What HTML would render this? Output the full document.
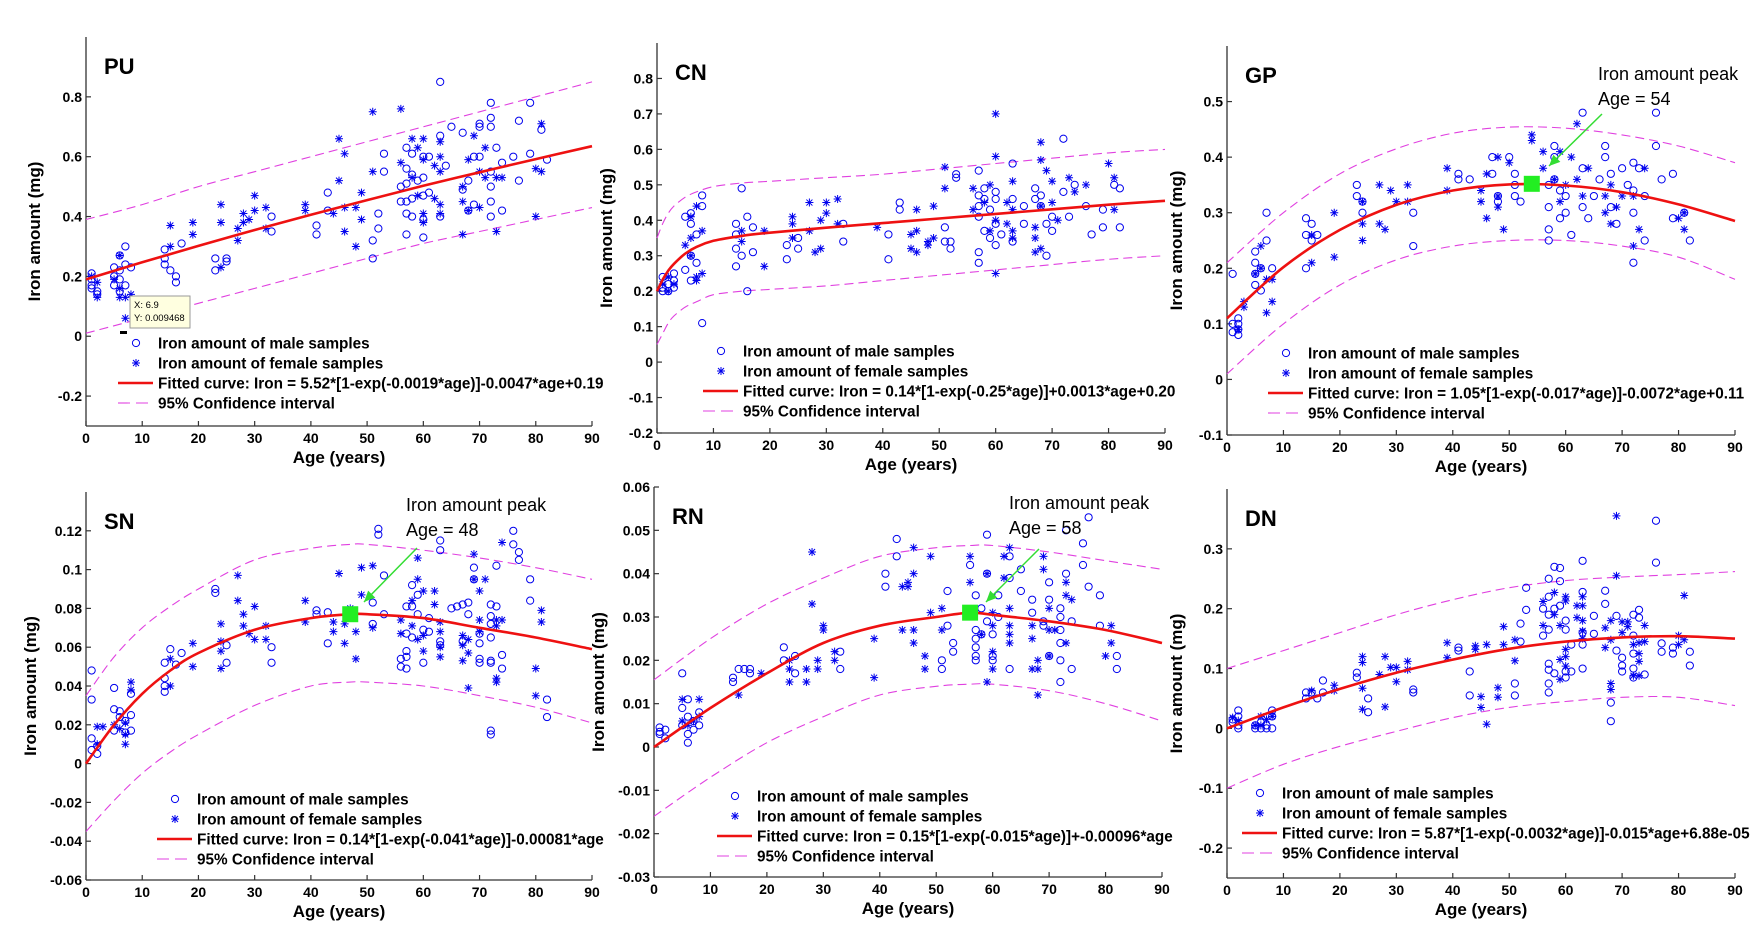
<!DOCTYPE html>
<html><head><meta charset="utf-8">
<style>
html,body{margin:0;padding:0;background:#fff;}
svg{display:block;font-family:"Liberation Sans",Arial,sans-serif;}
</style></head>
<body>
<svg id="fig" width="1756" height="935" viewBox="0 0 1756 935" xmlns="http://www.w3.org/2000/svg"></svg>
<script>
// ---------------- DATA ----------------
const xTicks = [0,10,20,30,40,50,60,70,80,90];

const puAges = [0,10,20,30,40,50,60,70,80,90];
const puFit = [0.19,0.247,0.302,0.355,0.406,0.455,0.503,0.548,0.592,0.635];
const puUpper = [0.39,0.44,0.5,0.55,0.6,0.65,0.7,0.75,0.8,0.85];
const puLower = [0.01,0.06,0.11,0.16,0.21,0.26,0.31,0.35,0.39,0.43];
const puYTicks = [-0.2,0,0.2,0.4,0.6,0.8];
const puMale = [[1,0.21],[1,0.19],[1,0.17],[1,0.16],[2,0.15],[2,0.14],[5,0.23],[5,0.2],[5,0.17],[6,0.27],[6,0.22],[6,0.19],[6,0.15],[7,0.3],[7,0.24],[7,0.17],[8,0.23],[14,0.29],[14,0.26],[14,0.24],[15,0.22],[16,0.2],[16,0.18],[17,0.31],[23,0.26],[23,0.22],[25,0.26],[25,0.25],[33,0.4],[33,0.35],[41,0.37],[41,0.34],[43,0.48],[43,0.42],[51,0.32],[51,0.26],[52,0.41],[52,0.36],[53,0.61],[53,0.55],[56,0.5],[56,0.45],[57,0.63],[57,0.56],[57,0.51],[57,0.45],[57,0.41],[57,0.34],[58,0.61],[58,0.54],[58,0.46],[58,0.4],[59,0.52],[60,0.6],[60,0.53],[60,0.47],[60,0.39],[60,0.33],[61,0.6],[61,0.48],[63,0.85],[63,0.67],[63,0.4],[64,0.57],[65,0.7],[67,0.68],[67,0.49],[68,0.52],[68,0.42],[69,0.6],[69,0.44],[70,0.71],[70,0.7],[70,0.6],[72,0.78],[72,0.73],[72,0.7],[72,0.55],[72,0.5],[72,0.45],[72,0.4],[73,0.63],[74,0.58],[74,0.42],[76,0.6],[77,0.72],[77,0.52],[79,0.78],[79,0.61],[81,0.69],[82,0.59]];
const puFemale = [[1,0.2],[2,0.18],[2,0.13],[5,0.19],[6,0.16],[6,0.13],[6,0.27],[7,0.13],[7,0.06],[8,0.14],[15,0.37],[15,0.3],[19,0.38],[19,0.34],[24,0.44],[24,0.38],[24,0.23],[27,0.36],[27,0.32],[28,0.41],[28,0.38],[29,0.39],[30,0.47],[30,0.42],[32,0.43],[32,0.36],[39,0.44],[39,0.42],[44,0.41],[45,0.66],[45,0.52],[46,0.61],[46,0.43],[46,0.35],[48,0.43],[48,0.3],[49,0.48],[49,0.39],[51,0.75],[51,0.55],[56,0.76],[56,0.58],[58,0.66],[58,0.53],[59,0.63],[59,0.47],[60,0.66],[60,0.59],[60,0.41],[60,0.38],[62,0.57],[62,0.46],[63,0.65],[63,0.6],[63,0.55],[63,0.44],[63,0.41],[67,0.5],[67,0.45],[67,0.34],[68,0.59],[68,0.42],[69,0.67],[70,0.55],[70,0.43],[71,0.53],[71,0.63],[73,0.53],[73,0.35],[74,0.53],[80,0.4],[80,0.56],[81,0.71],[81,0.55]];

const cnAges = [0,1,2,3,5,7,10,15,20,30,40,50,60,70,80,90];
const cnFit = [0.2,0.232,0.258,0.277,0.306,0.325,0.342,0.356,0.365,0.379,0.392,0.405,0.418,0.431,0.444,0.455];
const cnUpper = [0.35,0.39,0.42,0.44,0.465,0.48,0.495,0.505,0.51,0.52,0.53,0.545,0.56,0.575,0.59,0.6];
const cnLower = [0.05,0.08,0.11,0.13,0.155,0.17,0.19,0.2,0.205,0.215,0.23,0.245,0.26,0.275,0.29,0.3];
const cnYTicks = [-0.2,-0.1,0,0.1,0.2,0.3,0.4,0.5,0.6,0.7,0.8];
const cnMale = [[1,0.24],[1,0.21],[1,0.2],[2,0.22],[2,0.2],[3,0.25],[3,0.23],[3,0.21],[5,0.26],[5,0.41],[6,0.42],[6,0.39],[6,0.23],[6,0.3],[7,0.36],[7,0.28],[8,0.47],[8,0.44],[8,0.11],[14,0.39],[14,0.36],[14,0.32],[14,0.27],[15,0.49],[15,0.3],[16,0.41],[16,0.2],[17,0.38],[17,0.31],[23,0.33],[23,0.29],[25,0.35],[25,0.32],[33,0.39],[33,0.34],[41,0.36],[41,0.29],[43,0.45],[43,0.43],[51,0.38],[51,0.34],[52,0.34],[52,0.32],[53,0.53],[53,0.52],[57,0.54],[57,0.47],[57,0.44],[57,0.41],[57,0.31],[57,0.28],[58,0.49],[58,0.46],[58,0.37],[59,0.43],[59,0.35],[60,0.48],[60,0.46],[60,0.39],[60,0.33],[61,0.36],[63,0.56],[63,0.46],[63,0.34],[65,0.44],[65,0.39],[67,0.49],[67,0.46],[68,0.47],[68,0.44],[69,0.39],[69,0.3],[70,0.41],[70,0.37],[72,0.63],[72,0.48],[73,0.41],[74,0.5],[76,0.44],[77,0.36],[79,0.43],[79,0.38],[81,0.5],[82,0.49],[82,0.38]];
const cnFemale = [[1,0.22],[2,0.24],[2,0.2],[3,0.22],[5,0.33],[6,0.41],[6,0.35],[6,0.3],[7,0.44],[7,0.24],[7,0.23],[8,0.37],[8,0.25],[15,0.37],[15,0.34],[19,0.37],[19,0.27],[24,0.41],[24,0.39],[24,0.35],[27,0.45],[27,0.37],[28,0.31],[29,0.4],[29,0.32],[30,0.45],[30,0.42],[32,0.46],[32,0.39],[39,0.38],[45,0.36],[45,0.32],[46,0.37],[46,0.43],[46,0.31],[48,0.34],[48,0.33],[49,0.44],[49,0.35],[51,0.55],[51,0.49],[56,0.49],[56,0.43],[58,0.45],[59,0.5],[59,0.37],[60,0.7],[60,0.58],[60,0.4],[60,0.25],[62,0.45],[62,0.39],[63,0.51],[63,0.43],[63,0.37],[63,0.35],[67,0.38],[67,0.35],[67,0.31],[68,0.62],[68,0.57],[68,0.44],[68,0.32],[69,0.54],[70,0.51],[70,0.45],[71,0.4],[73,0.52],[74,0.48],[76,0.5],[80,0.56],[81,0.52],[81,0.43]];

const gpAges = [0,10,20,30,40,50,60,70,80,90];
const gpFit = [0.11,0.202,0.269,0.314,0.340,0.351,0.349,0.337,0.315,0.285];
const gpUpper = [0.21,0.3,0.37,0.415,0.443,0.454,0.452,0.44,0.42,0.39];
const gpLower = [0.01,0.1,0.17,0.215,0.24,0.25,0.25,0.24,0.22,0.18];
const gpYTicks = [-0.1,0,0.1,0.2,0.3,0.4,0.5];
const gpPeak = [54,0.352];
const gpMale = [[1,0.19],[1,0.1],[1,0.085],[2,0.11],[2,0.1],[2,0.09],[2,0.08],[5,0.23],[5,0.21],[5,0.19],[5,0.17],[6,0.2],[6,0.16],[7,0.3],[7,0.25],[8,0.2],[14,0.29],[14,0.26],[14,0.2],[15,0.28],[15,0.25],[16,0.26],[23,0.35],[23,0.33],[24,0.32],[24,0.3],[33,0.3],[33,0.24],[41,0.36],[41,0.37],[43,0.36],[47,0.4],[47,0.37],[48,0.32],[48,0.33],[50,0.4],[51,0.37],[51,0.35],[51,0.33],[52,0.32],[57,0.35],[57,0.31],[57,0.27],[57,0.25],[58,0.42],[58,0.4],[58,0.36],[59,0.34],[59,0.29],[60,0.33],[60,0.3],[61,0.26],[63,0.48],[63,0.38],[63,0.31],[64,0.29],[65,0.33],[66,0.36],[67,0.42],[67,0.4],[68,0.37],[68,0.31],[69,0.28],[70,0.38],[71,0.35],[72,0.39],[72,0.34],[72,0.3],[72,0.21],[73,0.38],[74,0.33],[74,0.25],[76,0.48],[76,0.42],[77,0.36],[79,0.37],[79,0.29],[81,0.3],[82,0.25]];
const gpFemale = [[2,0.09],[3,0.14],[3,0.13],[5,0.19],[6,0.24],[6,0.2],[7,0.18],[8,0.18],[8,0.14],[7,0.12],[15,0.26],[15,0.21],[19,0.3],[19,0.22],[24,0.32],[24,0.28],[24,0.25],[27,0.35],[27,0.28],[28,0.27],[29,0.34],[30,0.32],[32,0.35],[32,0.32],[39,0.38],[39,0.34],[45,0.34],[45,0.32],[46,0.37],[46,0.29],[48,0.4],[48,0.33],[48,0.31],[49,0.27],[50,0.39],[54,0.44],[54,0.43],[56,0.41],[56,0.38],[58,0.36],[59,0.41],[59,0.32],[60,0.35],[61,0.4],[62,0.46],[62,0.36],[63,0.33],[64,0.38],[67,0.33],[67,0.3],[68,0.35],[68,0.28],[69,0.31],[70,0.33],[72,0.33],[72,0.24],[73,0.27],[74,0.38],[80,0.29],[81,0.3],[81,0.27]];

const snAges = [0,5,10,15,20,30,40,47,50,60,70,80,90];
const snFit = [0,0.02,0.036,0.048,0.057,0.069,0.075,0.077,0.077,0.075,0.07,0.065,0.059];
const snUpper = [0.035,0.055,0.07,0.081,0.09,0.105,0.111,0.113,0.113,0.11,0.106,0.101,0.095];
const snLower = [-0.035,-0.019,-0.005,0.006,0.015,0.03,0.04,0.042,0.042,0.04,0.035,0.029,0.021];
const snYTicks = [-0.06,-0.04,-0.02,0,0.02,0.04,0.06,0.08,0.1,0.12];
const snPeak = [47,0.077];
const snMale = [[1,0.048],[1,0.033],[1,0.013],[1,0.007],[2,0.009],[2,0.005],[5,0.039],[5,0.028],[5,0.017],[6,0.027],[6,0.024],[7,0.022],[7,0.016],[8,0.036],[8,0.025],[8,0.017],[14,0.052],[14,0.044],[14,0.04],[14,0.037],[15,0.059],[16,0.051],[17,0.057],[23,0.09],[23,0.088],[25,0.061],[25,0.052],[33,0.06],[33,0.052],[41,0.079],[41,0.077],[43,0.078],[43,0.062],[51,0.072],[51,0.083],[52,0.121],[52,0.118],[53,0.097],[53,0.077],[56,0.054],[56,0.05],[57,0.081],[57,0.067],[57,0.058],[57,0.055],[57,0.049],[58,0.092],[58,0.081],[58,0.065],[59,0.087],[59,0.077],[60,0.069],[60,0.052],[61,0.075],[61,0.068],[63,0.115],[63,0.11],[63,0.063],[63,0.061],[65,0.08],[66,0.081],[67,0.082],[67,0.063],[68,0.083],[68,0.077],[69,0.101],[69,0.095],[70,0.067],[70,0.062],[70,0.054],[70,0.052],[72,0.082],[72,0.076],[72,0.072],[72,0.065],[72,0.053],[72,0.052],[72,0.017],[72,0.015],[73,0.102],[73,0.081],[74,0.056],[74,0.049],[76,0.12],[76,0.113],[77,0.109],[77,0.105],[79,0.095],[79,0.084],[82,0.033],[82,0.024]];
const snFemale = [[2,0.019],[2,0.01],[3,0.019],[5,0.02],[6,0.018],[7,0.021],[7,0.01],[7,0.015],[8,0.042],[8,0.038],[15,0.054],[15,0.04],[19,0.062],[19,0.05],[24,0.072],[24,0.063],[24,0.058],[24,0.049],[27,0.097],[27,0.084],[28,0.077],[28,0.071],[29,0.067],[30,0.081],[30,0.064],[32,0.071],[32,0.064],[39,0.084],[39,0.073],[44,0.073],[44,0.068],[45,0.098],[46,0.072],[46,0.062],[47,0.08],[48,0.068],[48,0.054],[49,0.101],[49,0.087],[51,0.102],[51,0.07],[56,0.074],[56,0.067],[58,0.071],[58,0.084],[59,0.106],[59,0.095],[59,0.064],[60,0.089],[60,0.066],[60,0.058],[62,0.089],[62,0.082],[63,0.073],[63,0.068],[63,0.06],[63,0.055],[67,0.066],[67,0.061],[67,0.053],[68,0.064],[68,0.057],[68,0.039],[69,0.108],[69,0.095],[70,0.089],[70,0.074],[70,0.068],[71,0.095],[73,0.074],[73,0.071],[73,0.044],[73,0.042],[74,0.114],[74,0.074],[80,0.049],[80,0.035],[81,0.079],[81,0.073]];

const rnAges = [0,10,20,30,40,50,56,60,70,80,90];
const rnFit = [0,0.009,0.017,0.024,0.028,0.030,0.031,0.0305,0.029,0.027,0.024];
const rnUpper = [0.0155,0.025,0.033,0.039,0.044,0.046,0.0465,0.0465,0.045,0.043,0.041];
const rnLower = [-0.016,-0.007,0.001,0.007,0.012,0.014,0.0145,0.0145,0.013,0.01,0.006];
const rnYTicks = [-0.03,-0.02,-0.01,0,0.01,0.02,0.03,0.04,0.05,0.06];
const rnPeak = [56,0.031];
const rnMale = [[1,0.0045],[1,0.0035],[1,0.003],[2,0.004],[2,0.002],[5,0.017],[5,0.009],[5,0.005],[6,0.011],[6,0.007],[6,0.003],[6,0.001],[7,0.004],[7,0.006],[8,0.008],[8,0.005],[14,0.016],[14,0.015],[15,0.018],[16,0.018],[17,0.018],[17,0.017],[23,0.023],[23,0.02],[25,0.021],[25,0.017],[33,0.022],[33,0.018],[41,0.04],[41,0.037],[43,0.048],[43,0.044],[51,0.02],[51,0.018],[52,0.036],[52,0.028],[53,0.024],[53,0.022],[56,0.042],[57,0.035],[57,0.027],[57,0.025],[57,0.023],[57,0.021],[57,0.02],[58,0.032],[58,0.026],[59,0.049],[59,0.04],[59,0.029],[60,0.026],[60,0.021],[60,0.02],[61,0.03],[61,0.035],[63,0.044],[63,0.039],[63,0.018],[65,0.036],[65,0.041],[67,0.034],[67,0.031],[69,0.029],[69,0.028],[70,0.038],[70,0.034],[70,0.021],[72,0.032],[72,0.03],[72,0.027],[72,0.024],[72,0.02],[72,0.015],[73,0.04],[73,0.05],[74,0.029],[74,0.018],[76,0.047],[76,0.042],[77,0.053],[77,0.037],[79,0.035],[79,0.028],[82,0.021],[82,0.018]];
const rnFemale = [[5,0.011],[5,0.006],[6,0.005],[7,0.006],[8,0.011],[8,0.007],[15,0.012],[19,0.017],[24,0.02],[24,0.018],[24,0.015],[27,0.018],[27,0.015],[28,0.045],[28,0.033],[29,0.02],[29,0.018],[30,0.028],[30,0.027],[32,0.022],[32,0.02],[39,0.025],[39,0.016],[44,0.037],[44,0.027],[45,0.038],[45,0.037],[46,0.046],[46,0.04],[46,0.027],[46,0.024],[48,0.021],[48,0.018],[49,0.044],[49,0.031],[51,0.032],[51,0.027],[56,0.044],[56,0.038],[58,0.026],[59,0.04],[59,0.015],[60,0.031],[60,0.028],[60,0.022],[60,0.018],[62,0.044],[62,0.039],[63,0.046],[63,0.032],[63,0.028],[63,0.026],[63,0.024],[67,0.028],[67,0.025],[67,0.018],[68,0.02],[68,0.018],[68,0.012],[69,0.044],[69,0.041],[70,0.032],[70,0.027],[70,0.021],[71,0.027],[73,0.038],[73,0.035],[73,0.024],[74,0.034],[80,0.021],[81,0.028],[81,0.024]];

const dnAges = [0,10,20,30,40,50,60,70,80,90];
const dnFit = [0,0.035,0.066,0.093,0.115,0.133,0.145,0.152,0.154,0.15];
const dnUpper = [0.1,0.13,0.16,0.19,0.215,0.235,0.247,0.253,0.257,0.262];
const dnLower = [-0.1,-0.06,-0.03,-0.005,0.018,0.035,0.045,0.052,0.052,0.038];
const dnYTicks = [-0.2,-0.1,0,0.1,0.2,0.3];
const dnMale = [[1,0.015],[1,0.01],[2,0.03],[2,0.02],[2,0.005],[2,0],[5,0.005],[5,0],[6,0.01],[6,0],[7,0.005],[7,0],[8,0.03],[8,0.02],[8,0],[14,0.06],[14,0.05],[15,0.06],[16,0.05],[17,0.08],[17,0.06],[23,0.093],[23,0.085],[25,0.05],[25,0.027],[33,0.065],[33,0.06],[41,0.135],[41,0.13],[43,0.095],[43,0.055],[51,0.075],[51,0.055],[52,0.175],[52,0.145],[53,0.235],[53,0.198],[56,0.2],[56,0.155],[57,0.25],[57,0.22],[57,0.19],[57,0.165],[57,0.108],[57,0.098],[57,0.075],[57,0.06],[58,0.27],[58,0.2],[58,0.092],[59,0.268],[59,0.246],[59,0.205],[60,0.18],[60,0.165],[60,0.095],[60,0.085],[61,0.14],[61,0.095],[63,0.28],[63,0.228],[63,0.16],[63,0.14],[63,0.1],[65,0.188],[65,0.158],[67,0.23],[67,0.208],[68,0.043],[68,0.012],[69,0.188],[69,0.13],[70,0.118],[70,0.105],[70,0.095],[72,0.19],[72,0.155],[72,0.125],[72,0.1],[72,0.085],[73,0.198],[73,0.185],[74,0.09],[76,0.347],[76,0.277],[77,0.142],[77,0.128],[79,0.135],[79,0.125],[82,0.128],[82,0.105]];
const dnFemale = [[1,0.018],[2,0.013],[5,0.005],[6,0.02],[6,0.005],[7,0.015],[8,0.02],[15,0.063],[19,0.072],[19,0.063],[24,0.12],[24,0.11],[24,0.067],[24,0.032],[27,0.09],[28,0.12],[28,0.036],[29,0.102],[30,0.102],[30,0.078],[32,0.112],[32,0.098],[39,0.143],[39,0.118],[44,0.138],[44,0.132],[45,0.053],[45,0.035],[46,0.14],[46,0.007],[48,0.068],[48,0.052],[49,0.17],[49,0.14],[51,0.148],[51,0.113],[56,0.212],[56,0.172],[58,0.227],[58,0.19],[59,0.172],[59,0.115],[59,0.082],[60,0.22],[60,0.213],[60,0.132],[60,0.12],[60,0.104],[62,0.205],[62,0.185],[63,0.22],[63,0.205],[63,0.18],[63,0.163],[63,0.15],[67,0.168],[67,0.135],[68,0.18],[68,0.148],[68,0.075],[68,0.065],[69,0.355],[69,0.255],[70,0.16],[70,0.178],[71,0.178],[71,0.17],[72,0.14],[72,0.088],[73,0.143],[73,0.125],[73,0.112],[73,0.088],[74,0.172],[74,0.145],[80,0.155],[80,0.14],[81,0.222],[81,0.148]];

// ---------------- RENDER ----------------
const NS = "http://www.w3.org/2000/svg";
const svg = document.getElementById('fig');
function mk(tag, attrs, parent){ const e=document.createElementNS(NS,tag); for(const k in attrs) e.setAttribute(k,attrs[k]); (parent||svg).appendChild(e); return e; }
function fmt(v){ if(Math.abs(v)<1e-9) return "0"; return String(+v.toFixed(4)); }
function smoothPath(pts){
  let d='M'+pts[0][0].toFixed(1)+','+pts[0][1].toFixed(1);
  for(let i=0;i<pts.length-1;i++){
    const p0=pts[Math.max(0,i-1)], p1=pts[i], p2=pts[i+1], p3=pts[Math.min(pts.length-1,i+2)];
    const c1x=p1[0]+(p2[0]-p0[0])/6, c1y=p1[1]+(p2[1]-p0[1])/6;
    const c2x=p2[0]-(p3[0]-p1[0])/6, c2y=p2[1]-(p3[1]-p1[1])/6;
    d+=` C${c1x.toFixed(1)},${c1y.toFixed(1)} ${c2x.toFixed(1)},${c2y.toFixed(1)} ${p2[0].toFixed(1)},${p2[1].toFixed(1)}`;
  }
  return d;
}

function panel(cfg){
  const g = mk('g',{});
  
  
  const xs = a => cfg.x0 + a/90*(cfg.x1-cfg.x0);
  const ys = v => cfg.bottom - (v-cfg.ymin)/(cfg.ymax-cfg.ymin)*(cfg.bottom-cfg.top);
  const ax = mk('line',{x1:cfg.x0,y1:cfg.top,x2:cfg.x0,y2:cfg.bottom,stroke:'#333','stroke-width':1.3},g);
  
  
  const bx = mk('line',{x1:cfg.x0,y1:cfg.bottom,x2:cfg.x1,y2:cfg.bottom,stroke:'#333','stroke-width':1.3},g);
  
  
  xTicks.forEach(t=>{
    const x=xs(t);
    mk('line',{x1:x,y1:cfg.bottom,x2:x,y2:cfg.bottom-5,stroke:'#333','stroke-width':1.2},g);
    const tx = mk('text',{x:x,y:cfg.bottom+17,'text-anchor':'middle','font-size':14,'font-weight':'bold',fill:'#000'},g);
    tx.textContent = t;
    
    
  });
  cfg.yTicks.forEach(t=>{
    const y=ys(t);
    mk('line',{x1:cfg.x0,y1:y,x2:cfg.x0+5,y2:y,stroke:'#333','stroke-width':1.2},g);
    const ty = mk('text',{x:cfg.x0-4,y:y+5,'text-anchor':'end','font-size':14,'font-weight':'bold',fill:'#000'},g);
    ty.textContent = fmt(t);
    
    
  });
  const xl = mk('text',{x:(cfg.x0+cfg.x1)/2,y:cfg.bottom+37,'text-anchor':'middle','font-size':17,'font-weight':'bold',fill:'#000'},g);
  xl.textContent='Age (years)';
  
  
  const ym=(cfg.top+cfg.bottom)/2;
  const yl = mk('text',{x:cfg.ylx,y:ym,'text-anchor':'middle','font-size':17,'font-weight':'bold',fill:'#000',transform:`rotate(-90 ${cfg.ylx} ${ym})`},g);
  yl.textContent='Iron amount (mg)';
  
  
  const ti = mk('text',{x:cfg.x0+18,y:cfg.top+37,'font-size':22,'font-weight':'bold',fill:'#000'},g);
  ti.textContent=cfg.title;
  
  

  const pathOf = arr => smoothPath(cfg.ages.map((a,i)=>[xs(a),ys(arr[i])]));
  [['upper',cfg.upper],['lower',cfg.lower]].forEach(([n,arr])=>{
    const p = mk('path',{d:pathOf(arr),fill:'none',stroke:'#e040e0','stroke-width':1.1,'stroke-dasharray':'9,5'},g);
    
    
  });
  cfg.male.forEach(([a,v])=>{
    const c = mk('circle',{cx:xs(a),cy:ys(v),r:3.6,fill:'none',stroke:'#0000ee','stroke-width':1},g);
    
    
  });
  cfg.female.forEach(([a,v])=>{
    const x=xs(a), y=ys(v), r=4;
    const s = mk('path',{d:`M${x-r},${y}L${x+r},${y}M${x},${y-r}L${x},${y+r}M${x-3},${y-3}L${x+3},${y+3}M${x-3},${y+3}L${x+3},${y-3}`,stroke:'#0000ee','stroke-width':1},g);
    
    
  });
  const f = mk('path',{d:pathOf(cfg.fit),fill:'none',stroke:'#ee1111','stroke-width':2.6},g);
  
  

  const lx=cfg.lgx, ly=cfg.lgy, tx=lx+40;
  const items=['Iron amount of male samples','Iron amount of female samples',cfg.fitLabel,'95% Confidence interval'];
  items.forEach((txt,i)=>{
    const y=ly+i*20;
    if(i===0){ mk('circle',{cx:lx+18,cy:y,r:3.6,fill:'none',stroke:'#0000ee','stroke-width':1},g); }
    if(i===1){ const x=lx+18; mk('path',{d:`M${x-4},${y}L${x+4},${y}M${x},${y-4}L${x},${y+4}M${x-3},${y-3}L${x+3},${y+3}M${x-3},${y+3}L${x+3},${y-3}`,stroke:'#0000ee','stroke-width':1},g); }
    if(i===2){ mk('line',{x1:lx,y1:y,x2:lx+35,y2:y,stroke:'#ee1111','stroke-width':2.6},g); }
    if(i===3){ mk('line',{x1:lx,y1:y,x2:lx+35,y2:y,stroke:'#e040e0','stroke-width':1.1,'stroke-dasharray':'12,6'},g); }
    const t = mk('text',{x:tx,y:y+5.5,'font-size':15.3,'font-weight':'bold',fill:'#000'},g);
    t.textContent=txt;
    
    
  });

  if(cfg.peak){
    const [pa,pv]=cfg.peak; const px=xs(pa), py=ys(pv);
    const sq = mk('rect',{x:px-8,y:py-8,width:16,height:16,fill:'#22ee22'},g);
    
    
    const [ax1,ay1,ax2,ay2]=cfg.arrow;
    mk('line',{x1:ax1,y1:ay1,x2:ax2,y2:ay2,stroke:'#33dd33','stroke-width':1.5},g);
    const ang=Math.atan2(ay2-ay1,ax2-ax1), L=11, W=5;
    const bx1=ax2-L*Math.cos(ang), by1=ay2-L*Math.sin(ang);
    mk('polygon',{points:`${ax2},${ay2} ${bx1+W*Math.sin(ang)},${by1-W*Math.cos(ang)} ${bx1-W*Math.sin(ang)},${by1+W*Math.cos(ang)}`,fill:'#33dd33'},g);
    const t1 = mk('text',{x:cfg.ann[0],y:cfg.ann[1],'font-size':18,fill:'#000'},g);
    t1.textContent='Iron amount peak';
    
    
    const t2 = mk('text',{x:cfg.ann[0],y:cfg.ann[1]+25,'font-size':18,fill:'#000'},g);
    t2.textContent='Age = '+cfg.peakAge;
    
    
  }
}

panel({key:'pu',title:'PU',x0:86,x1:592,top:37,bottom:426,ymin:-0.3,ymax:1.0,yTicks:puYTicks,ylx:40,
  ages:puAges,fit:puFit,upper:puUpper,lower:puLower,male:puMale,female:puFemale,lgx:118,lgy:343,
  fitLabel:'Fitted curve: Iron = 5.52*[1-exp(-0.0019*age)]-0.0047*age+0.19'});
panel({key:'cn',title:'CN',x0:657,x1:1165,top:43,bottom:433,ymin:-0.2,ymax:0.9,yTicks:cnYTicks,ylx:612,
  ages:cnAges,fit:cnFit,upper:cnUpper,lower:cnLower,male:cnMale,female:cnFemale,lgx:703,lgy:351,
  fitLabel:'Fitted curve: Iron = 0.14*[1-exp(-0.25*age)]+0.0013*age+0.20'});
panel({key:'gp',title:'GP',x0:1227,x1:1735,top:46,bottom:435,ymin:-0.1,ymax:0.6,yTicks:gpYTicks,ylx:1182,
  ages:gpAges,fit:gpFit,upper:gpUpper,lower:gpLower,male:gpMale,female:gpFemale,lgx:1268,lgy:353,
  fitLabel:'Fitted curve: Iron = 1.05*[1-exp(-0.017*age)]-0.0072*age+0.11',
  peak:gpPeak,peakAge:54,ann:[1598,80],arrow:[1602,114,1549,166]});
panel({key:'sn',title:'SN',x0:86,x1:592,top:492,bottom:880,ymin:-0.06,ymax:0.14,yTicks:snYTicks,ylx:36,
  ages:snAges,fit:snFit,upper:snUpper,lower:snLower,male:snMale,female:snFemale,lgx:157,lgy:799,
  fitLabel:'Fitted curve: Iron = 0.14*[1-exp(-0.041*age)]-0.00081*age',
  peak:snPeak,peakAge:48,ann:[406,511],arrow:[417,548,364,602]});
panel({key:'rn',title:'RN',x0:654,x1:1162,top:487,bottom:877,ymin:-0.03,ymax:0.06,yTicks:rnYTicks,ylx:604,
  ages:rnAges,fit:rnFit,upper:rnUpper,lower:rnLower,male:rnMale,female:rnFemale,lgx:717,lgy:796,
  fitLabel:'Fitted curve: Iron = 0.15*[1-exp(-0.015*age)]+-0.00096*age',
  peak:rnPeak,peakAge:58,ann:[1009,509],arrow:[1039,549,986,602]});
panel({key:'dn',title:'DN',x0:1227,x1:1735,top:489,bottom:878,ymin:-0.25,ymax:0.4,yTicks:dnYTicks,ylx:1182,
  ages:dnAges,fit:dnFit,upper:dnUpper,lower:dnLower,male:dnMale,female:dnFemale,lgx:1242,lgy:793,
  fitLabel:'Fitted curve: Iron = 5.87*[1-exp(-0.0032*age)]-0.015*age+6.88e-05'});

const tip = mk('g',{});


mk('rect',{x:130,y:296,width:60,height:32,fill:'#ffffe0',stroke:'#999','stroke-width':1},tip);
const tt1 = mk('text',{x:134,y:308,'font-size':9.5,fill:'#000'},tip); tt1.textContent='X: 6.9';
const tt2 = mk('text',{x:134,y:321,'font-size':9.5,fill:'#000'},tip); tt2.textContent='Y: 0.009468';
mk('rect',{x:120,y:331,width:7,height:3,fill:'#000'},tip);
</script>
</body></html>
